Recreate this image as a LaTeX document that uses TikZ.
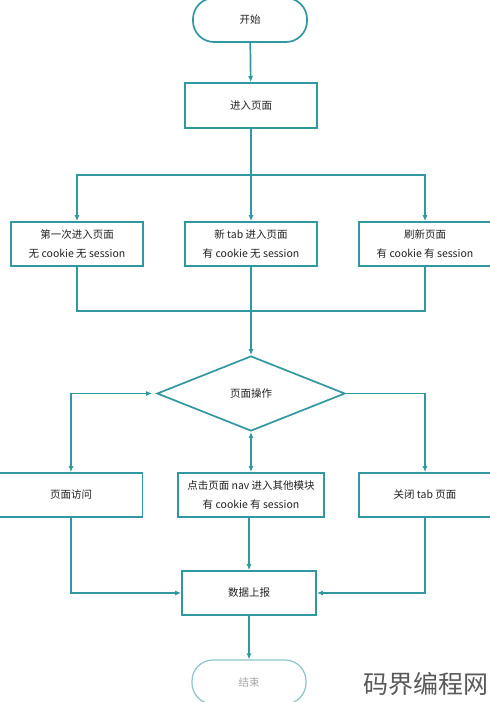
\documentclass[tikz,border=0pt]{standalone}
\usepackage{fontspec}
\setmainfont{Noto Sans CJK SC}
\usetikzlibrary{arrows.meta,shapes.geometric}
\definecolor{teal1}{HTML}{3197A1}
\definecolor{txt}{HTML}{222222}
\definecolor{lightb}{HTML}{8CC4C8}
\begin{document}
\begin{tikzpicture}[x=1pt,y=-1pt,
  every node/.style={font=\fontsize{10.5}{19}\selectfont, text=txt, align=center, inner sep=0pt},
  box/.style={draw=teal1, line width=1.7pt, rectangle, minimum height=44pt},
  term/.style={draw=teal1, line width=1.7pt, rectangle, rounded corners=21pt, minimum width=114pt, minimum height=44pt},
  cond/.style={draw=teal1, line width=1.7pt, diamond, minimum width=188pt, minimum height=75pt},
  ln/.style={draw=teal1, line width=1.7pt},
  arr/.style={ln, -{Latex[length=6pt,width=5pt]}},
  darr/.style={ln, {Latex[length=6pt,width=5pt]}-{Latex[length=6pt,width=5pt]}}
]
\useasboundingbox (0,0) rectangle (490,702);
\fill[white] (0,0) rectangle (490,702);

\node[term] (start) at (250,20) {开始};
\node[box, minimum width=132pt, minimum height=45pt] (enter) at (251,105.5) {进入页面};
\node[box, minimum width=132pt] (b1) at (77,244) {第一次进入页面\\无 cookie 无 session};
\node[box, minimum width=132pt] (b2) at (251,244) {新 tab 进入页面\\有 cookie 无 session};
\node[box, minimum width=132pt] (b3) at (425,244) {刷新页面\\有 cookie 有 session};
\node[cond] (dia) at (251,393.5) {页面操作};
\node[box, minimum width=143pt] (c1) at (71,495) {页面访问};
\node[box, minimum width=146pt] (c2) at (251,495) {点击页面 nav 进入其他模块\\有 cookie 有 session};
\node[box, minimum width=132pt] (c3) at (425,495) {关闭 tab 页面};
\node[box, minimum width=134pt] (rep) at (249,593) {数据上报};
\node[term, draw=lightb, line width=1.2pt, text=gray!70] (end) at (249,682) {结束};
\node[font=\fontsize{25}{25}\selectfont, text=black!65] (wm) at (426,684) {码界编程网};

\coordinate (s1) at (251,175);
\coordinate (m1) at (251,311);

\draw[arr] (start) -- (enter);
\draw[ln] (enter) -- (s1);
\draw[arr] (s1) -| (b1);
\draw[arr] (s1) -| (b3);
\draw[arr] (s1) -- (b2);
\draw[ln] (b1) |- (m1);
\draw[ln] (b3) |- (m1);
\draw[ln] (b2) -- (m1);
\draw[arr] (m1) -- (dia);

\draw[darr, shorten <=4pt] (dia.west) -| (c1);
\draw[darr] (dia.south) -- (c2);
\draw[arr] (dia.east) -| (c3);

\draw[arr] (c1) |- (rep);
\draw[arr] (c3) |- (rep);
\draw[arr] (c2.south -| rep.north) -- (rep);
\draw[arr] (rep) -- (end);
\end{tikzpicture}
\end{document}
